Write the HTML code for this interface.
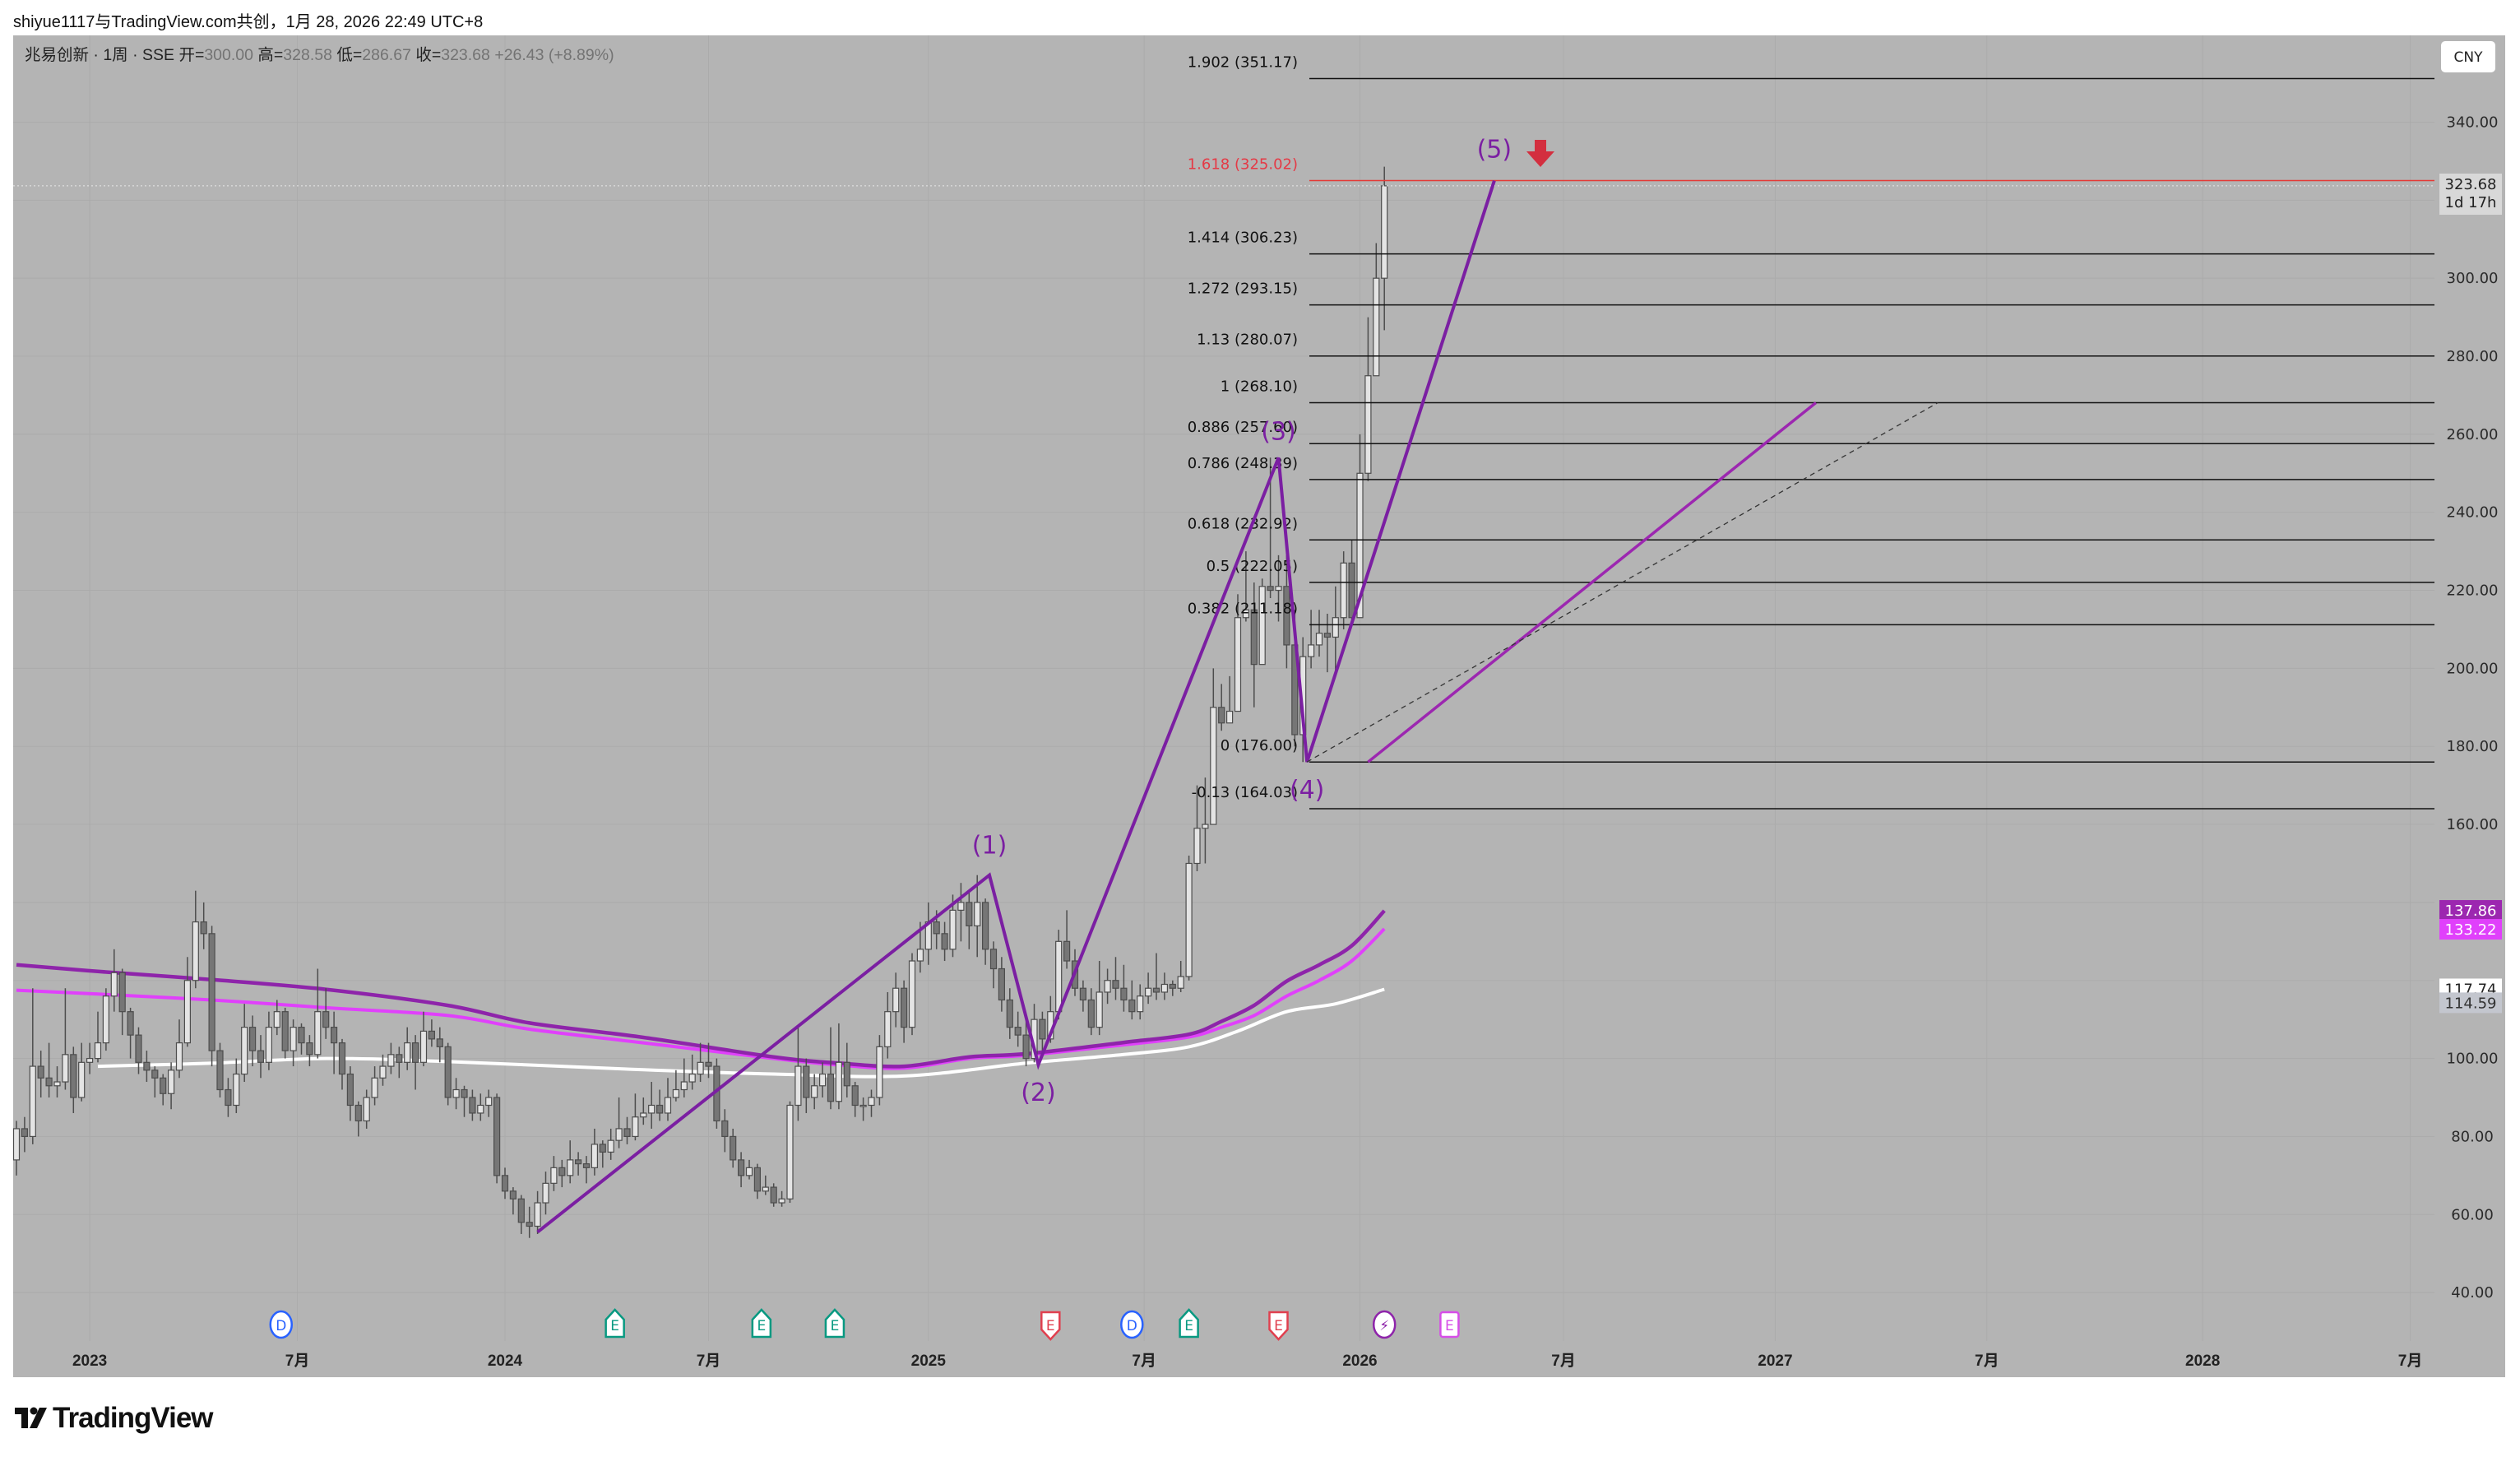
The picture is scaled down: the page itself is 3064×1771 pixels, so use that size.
<!DOCTYPE html>
<html><head><meta charset="utf-8">
<style>
html,body{margin:0;padding:0;background:#fff;}
body{width:3064px;height:1771px;overflow:hidden;position:relative;font-family:"Liberation Sans","Noto Sans CJK SC",sans-serif;}
#hdr{position:absolute;left:16px;top:10px;font-size:20px;color:#111;}
#chart{position:absolute;left:0;top:0;}
</style></head>
<body>
<div id="hdr">shiyue1117与TradingView.com共创，1月 28, 2026 22:49 UTC+8</div>
<svg id="chart" width="3064" height="1771" xmlns="http://www.w3.org/2000/svg">
  <rect x="16" y="43" width="3030" height="1631" fill="#b4b4b4"/>
  <g id="grid"></g>
  <g id="mas"></g>
  <g id="candles"></g>
  <g id="fib"></g>
  <g id="waves"></g>
  <g id="axis"></g>
  <g id="taxis"></g>
  <g id="events"></g>
  <text x="30" y="73" font-size="19.5" fill="#222" font-family="Liberation Sans, Noto Sans CJK SC, sans-serif">兆易创新 · 1周 · SSE  开=<tspan fill="#737373">300.00</tspan>  高=<tspan fill="#737373">328.58</tspan>  低=<tspan fill="#737373">286.67</tspan>  收=<tspan fill="#737373">323.68</tspan>  <tspan fill="#737373">+26.43 (+8.89%)</tspan></text>
  <g>
    <rect x="18" y="1711" width="16" height="8" fill="#111"/>
    <rect x="26" y="1711" width="8" height="25" fill="#111"/>
    <circle cx="41" cy="1715" r="4.5" fill="#111"/>
    <polygon points="48,1711 57,1711 45,1736 36,1736" fill="#111"/>
    <text x="64" y="1735" font-size="35" font-weight="bold" fill="#111" font-family="Liberation Sans, sans-serif" letter-spacing="-1">TradingView</text>
  </g>
</svg>
<script>
// ---------- data ----------
const firstOpen = 74;
const closes = [82,80,98,95,93,94,101,90,99,100,
104,116,122,112,106,99,97,95,91,97,
104,120,135,132,102,92,88,96,108,102,
99,108,112,102,108,104,101,112,108,104,
96,88,84,90,95,98,101,99,104,99,
107,105,103,90,92,90,86,88,90,70,
66,64,58,57,63,68,72,70,74,73,
72,78,76,79,82,80,85,86,88,86,
90,92,94,96,99,98,84,80,74,70,
72,66,67,63,64,88,98,90,93,96,
89,99,93,88,88,90,103,112,118,108,
125,128,135,132,128,138,140,134,140,128,
123,115,108,106,100,110,105,112,130,125,
118,115,108,117,120,118,115,112,116,118,
117,119,118,121,150,159,160,
190,186,189,213,215,201,221,220,221,206,183,203,206,209,208,213,227,213,250,275,300,323.68];
const highs = [84,85,118,102,104,98,118,103,104,104,
112,118,128,123,113,108,102,98,96,99,
110,126,143,140,134,104,95,100,114,111,
106,112,115,113,110,109,106,123,118,112,
105,98,89,92,98,101,104,103,108,106,
112,110,108,104,95,93,92,91,92,91,
72,67,65,62,66,71,75,74,79,76,
75,82,79,82,90,85,91,90,94,92,
95,97,100,101,104,104,100,87,82,76,
74,73,70,68,66,89,108,100,96,99,
108,109,104,94,90,92,106,117,122,120,
127,135,140,138,135,142,145,143,147,141,
130,126,118,112,110,114,112,116,133,138,
128,120,118,125,123,126,124,120,119,122,
127,122,120,125,152,170,172,
200,196,198,219,230,222,223,254,229,229,215,208,215,215,214,221,230,233,260,290,309,328.58];
const lows = [70,76,78,90,90,90,92,86,89,96,
99,102,112,106,100,96,94,90,88,87,
95,103,118,128,98,90,85,86,94,98,
95,97,106,100,98,101,98,100,105,96,
92,84,80,82,88,93,96,95,97,92,
98,103,99,88,87,85,84,84,85,68,
64,60,55,54,55,60,66,67,68,70,
68,70,72,74,77,78,79,83,82,84,
84,89,90,92,94,95,82,76,72,67,
69,64,65,62,62,63,84,86,87,90,
87,87,90,85,84,85,88,100,108,104,
106,122,124,128,125,126,130,128,126,124,
118,112,105,103,98,99,102,104,110,123,
116,112,106,106,114,115,112,110,110,114,
115,115,116,117,120,148,150,
160,184,186,195,212,190,205,218,212,200,180,176,200,203,199,198,210,212,214,248,279,286.67];
const maIdx = [0,10,24,38,53,63,77,93,101,109,117,124,136,144,148,152,156,160,164,168];
const maSlow = [124,122.3,120.2,117.7,113.6,109.1,105.4,100.4,98.8,98,100.4,101.2,104.1,106.2,109.5,113.6,119.8,124,128.9,137.86];
const maMid = [117.5,116.5,115,113,111,107.5,104,100,98.3,97.5,100,100.8,103.5,105.5,108,111,116,120,125,133.22];
const maWhiteIdx = [10,24,38,53,77,93,109,124,136,144,150,156,162,168];
const maWhite = [98,98.8,100,99.2,97.1,96,95.5,98.8,101,103,107,112,114,117.74];
const fibRatios = ["-0.13","0","0.382","0.5","0.618","0.786","0.886","1","1.13","1.272","1.414","1.618","1.902"];
const fibPrices = [164.03,176.00,211.18,222.05,232.92,248.39,257.60,268.10,280.07,293.15,306.23,325.02,351.17];
const waveIdx = [64,119.5,125.5,155,158.5,181.5];
const wavePrice = [55.5,147,98.4,254,176,325];
const waveLabels = ["","(1)","(2)","(3)","(4)","(5)"];
const priceTicks = [40,60,80,100,120,140,160,180,200,220,240,260,280,300,320,340];
const timeLabels = ["2023","7月","2024","7月","2025","7月","2026","7月","2027","7月","2028","7月"];
const timeLabelIdx = [9,34.5,60,85,112,138.5,165,190,216,242,268.5,294];
const eventIdx = [32.5,73.5,91.5,100.5,127,137,144,155,168,176];
const eventKinds = ["D","E","E","E","Er","D","E","Er","L","Em"];

// ---------- scales ----------
const yOf = p => 148.5 + (340 - p) * 4.742;
const xOf = i => 20 + i * 9.9;
const NS = "http://www.w3.org/2000/svg";
function mk(tag, attrs, parent){const e=document.createElementNS(NS,tag);for(const k in attrs)e.setAttribute(k,attrs[k]);parent.appendChild(e);return e;}
const PL=16, PR=2960, PT=43, PB=1630;

// grid
const grid=document.getElementById('grid');
priceTicks.forEach(p=>{const l=mk('line',{x1:PL,x2:PR,y1:yOf(p),y2:yOf(p),stroke:'#ababab','stroke-width':1},grid);

});
timeLabelIdx.forEach(i=>{const l=mk('line',{x1:xOf(i),x2:xOf(i),y1:PT,y2:PB,stroke:'#ababab','stroke-width':1},grid);

});

// moving averages (smooth)
function maPath(idx, vals){
  const pts=idx.map((i,k)=>[xOf(i),yOf(vals[k])]);
  let d='M'+pts[0][0].toFixed(1)+','+pts[0][1].toFixed(1);
  for(let k=0;k<pts.length-1;k++){
    const p0=pts[Math.max(0,k-1)],p1=pts[k],p2=pts[k+1],p3=pts[Math.min(pts.length-1,k+2)];
    const c1=[p1[0]+(p2[0]-p0[0])/6,p1[1]+(p2[1]-p0[1])/6];
    const c2=[p2[0]-(p3[0]-p1[0])/6,p2[1]-(p3[1]-p1[1])/6];
    d+=` C${c1[0].toFixed(1)},${c1[1].toFixed(1)} ${c2[0].toFixed(1)},${c2[1].toFixed(1)} ${p2[0].toFixed(1)},${p2[1].toFixed(1)}`;
  }
  return d;
}
const mas=document.getElementById('mas');
const w=mk('path',{d:maPath(maWhiteIdx,maWhite),fill:'none',stroke:'#ffffff','stroke-width':4,'stroke-linejoin':'round'},mas);


const m2=mk('path',{d:maPath(maIdx,maMid),fill:'none',stroke:'#e040fb','stroke-width':4,'stroke-linejoin':'round'},mas);


const m1=mk('path',{d:maPath(maIdx,maSlow),fill:'none',stroke:'#8e24aa','stroke-width':4.5,'stroke-linejoin':'round'},mas);



// candles
const cg=document.getElementById('candles');
closes.forEach((c,i)=>{
  const o = i===0 ? firstOpen : closes[i-1];
  const x=xOf(i), bull=c>=o;
  const wk=mk('line',{x1:x,x2:x,y1:yOf(highs[i]),y2:yOf(lows[i]),stroke:'#4d4d4d','stroke-width':1.5},cg);
  
  
  const top=yOf(Math.max(o,c)), bot=yOf(Math.min(o,c));
  const b=mk('rect',{x:x-3.5,y:top,width:7,height:Math.max(1.5,bot-top),fill:bull?'#e4e4e4':'#767676',stroke:'#4d4d4d','stroke-width':1.2},cg);
  
  
});

// current price dotted line
const cp=mk('line',{x1:PL,x2:PR,y1:yOf(323.68),y2:yOf(323.68),stroke:'#e8e8e8','stroke-width':1,'stroke-dasharray':'2,3'},cg);



// fib
const fg=document.getElementById('fib');
fibPrices.forEach((p,k)=>{
  const red = fibRatios[k]==="1.618";
  const ln=mk('line',{x1:1592,x2:PR,y1:yOf(p),y2:yOf(p),stroke:red?'#e53935':'#111','stroke-width':1.5},fg);
  
  
  const t=mk('text',{x:1578,y:yOf(p)-14,'text-anchor':'end','font-size':18,fill:red?'#e53945':'#111','font-family':'DejaVu Sans, Liberation Sans, sans-serif'},fg);
  t.textContent=fibRatios[k]+' ('+p.toFixed(2)+')';
  
  
});

// waves
const wg=document.getElementById('waves');
const wp=mk('path',{d:waveIdx.map((i,k)=>(k?'L':'M')+xOf(i).toFixed(1)+','+yOf(wavePrice[k]).toFixed(1)).join(' '),fill:'none',stroke:'#7b1fa2','stroke-width':4,'stroke-linejoin':'miter'},wg);


const labelDy=[0,-26,44,-22,44,-28];
waveLabels.forEach((s,k)=>{ if(!s) return;
  const t=mk('text',{x:xOf(waveIdx[k]),y:yOf(wavePrice[k])+labelDy[k],'text-anchor':'middle','font-size':30,fill:'#7b1fa2','font-family':'DejaVu Sans, Liberation Sans, sans-serif'},wg);
  t.textContent=s;
  
  
});
const tl=mk('line',{x1:xOf(166),y1:yOf(176),x2:xOf(221),y2:yOf(268.1),stroke:'#9c27b0','stroke-width':3.5},wg);


const dl=mk('line',{x1:xOf(158.5),y1:yOf(176),x2:xOf(236),y2:yOf(268.1),stroke:'#333','stroke-width':1.3,'stroke-dasharray':'6,5'},wg);


const ar=mk('path',{d:'M1866,170 h14 v14 h10 l-17,19 l-17,-19 h10 z',fill:'#d32f3f'},wg);



// price axis
const ag=document.getElementById('axis');
priceTicks.forEach(p=>{ if(p===120||p===140) return;
  const t=mk('text',{x:3006,y:yOf(p)+6,'text-anchor':'middle','font-size':18,fill:'#2a2a2a','font-family':'DejaVu Sans, Liberation Sans, sans-serif'},ag);
  t.textContent=p.toFixed(2);
  
  
});
function badge(name,y,h,bg,lines,fg){
  const g=mk('g',{},ag);
  
  
  mk('rect',{x:2966,y:y,width:76,height:h,fill:bg},g);
  lines.forEach((s,k)=>{const t=mk('text',{x:3004,y:y+19+k*22,'text-anchor':'middle','font-size':18,fill:fg,'font-family':'DejaVu Sans, Liberation Sans, sans-serif'},g);t.textContent=s;});
}
badge('last-price-badge',211,50,'#d8d8d8',['323.68','1d 17h'],'#222');
badge('ma-purple-badge',yOf(137.86)-13,25,'#9c27b0',['137.86'],'#fff');
badge('ma-magenta-badge',yOf(133.22)-12,25,'#e040fb',['133.22'],'#fff');
badge('ma-white-badge',yOf(117.74)-13,25,'#ffffff',['117.74'],'#222');
badge('ma-gray-badge',yOf(114.59)-11,25,'#c3c6ce',['114.59'],'#333');
const cur=mk('g',{},ag);


mk('rect',{x:2968,y:50,width:66,height:38,rx:5,fill:'#fff'},cur);
const ct=mk('text',{x:3001,y:75,'text-anchor':'middle','font-size':17,fill:'#222','font-family':'DejaVu Sans, Liberation Sans, sans-serif'},cur);
ct.textContent='CNY';

// time axis
const tg=document.getElementById('taxis');
timeLabels.forEach((s,k)=>{
  const t=mk('text',{x:xOf(timeLabelIdx[k]),y:1660,'text-anchor':'middle','font-size':19,'font-weight':/^\d/.test(s)?'bold':'normal',fill:'#222','font-family':'Liberation Sans, Noto Sans CJK SC, sans-serif'},tg);
  t.textContent=s;
  
  
});

// events
const eg=document.getElementById('events');
eventIdx.forEach((i,k)=>{
  const kind=eventKinds[k], x=xOf(i), y=1610;
  const g=mk('g',{},eg);
  
  
  let col='#089981', letter='E';
  if(kind==='D'){col='#2962ff';letter='D';
    mk('ellipse',{cx:x,cy:y,rx:13,ry:16,fill:'#fff',stroke:col,'stroke-width':2.5},g);}
  else if(kind==='L'){col='#8e24aa';letter='⚡';
    mk('ellipse',{cx:x,cy:y,rx:13,ry:16,fill:'#fff',stroke:col,'stroke-width':2.5},g);}
  else if(kind==='E'){mk('path',{d:`M${x-11},${y+15} V${y-6} L${x},${y-18} L${x+11},${y-6} V${y+15} Z`,fill:'#fff',stroke:col,'stroke-width':2.5},g);}
  else if(kind==='Er'){col='#e0404f';mk('path',{d:`M${x-11},${y-15} V${y+6} L${x},${y+18} L${x+11},${y+6} V${y-15} Z`,fill:'#fff',stroke:col,'stroke-width':2.5},g);}
  else {col='#d64ee8';mk('rect',{x:x-11,y:y-15,width:22,height:30,rx:3,fill:'#fff',stroke:col,'stroke-width':2.5},g);}
  const t=mk('text',{x:x,y:y+7,'text-anchor':'middle','font-size':17,fill:col,'font-family':'DejaVu Sans, Liberation Sans, sans-serif'},g);
  t.textContent=letter;
});
</script>
</body></html>
